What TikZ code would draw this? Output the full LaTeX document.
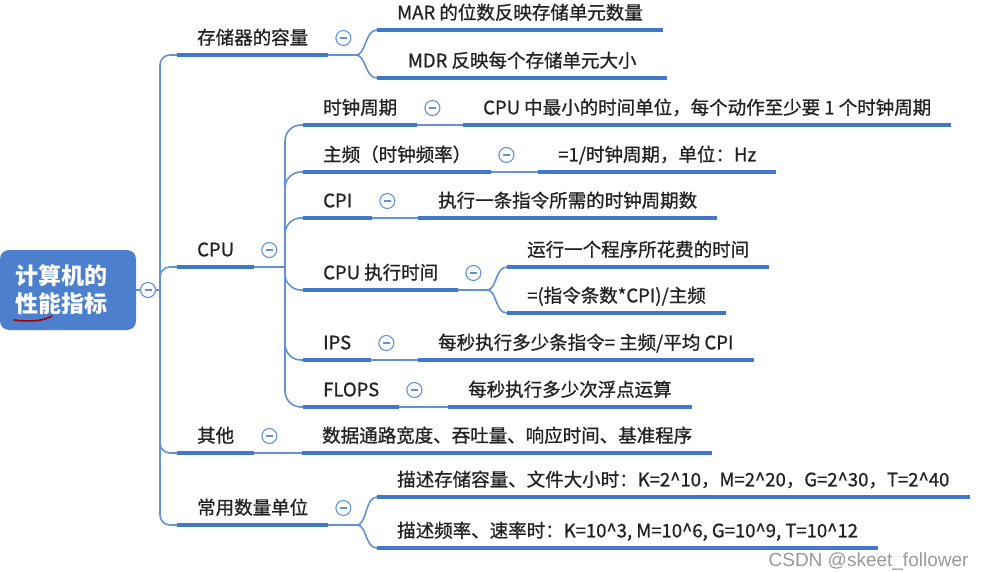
\documentclass[tikz,border=0pt]{standalone}
\usepackage{fontspec}
\setmainfont{Noto Sans CJK SC}
\newfontfamily\topicfont{Noto Sans CJK SC}[FakeBold=0.9]
\newfontfamily\markfont{Liberation Sans}
\usetikzlibrary{positioning}
\definecolor{mapblue}{RGB}{66,120,204}
\definecolor{linkblue}{RGB}{98,146,214}
\definecolor{rootblue}{RGB}{76,128,206}
\definecolor{ink}{RGB}{34,34,34}

\begin{document}
\begin{tikzpicture}[x=1pt, y=-1pt,
  root/.style={fill=rootblue, rounded corners=9pt, minimum width=136pt, minimum height=80pt, text width=106pt, inner xsep=15pt, inner ysep=0pt, align=left, text=white, font=\fontsize{23}{28}\selectfont\bfseries},
  topic/.style={anchor=south west, inner xsep=20pt, inner ysep=8.5pt, text height=15pt, text depth=2pt, text=ink, font=\topicfont\fontsize{18.5}{20}\selectfont},
  fold/.style={circle, draw=linkblue, fill=white, line width=1.1pt, minimum size=15pt, inner sep=0pt,
    path picture={\draw[linkblue, line width=1.1pt] ([xshift=-3.5pt]path picture bounding box.center) -- ([xshift=3.5pt]path picture bounding box.center);}},
  uline/.style={mapblue, line width=4.5pt},
  link/.style={linkblue, line width=1.6pt}]
  \useasboundingbox (0,0) rectangle (987,572);
  % root
  \node[root] (root) at (68,290) {计算机的\\性能指标};
  \draw[red!65!black, line width=1.6pt, line cap=round] (14,320) .. controls (30,322) and (44,321) .. (52,316);
  \node[fold] (f0) at (148,290) {};
  \coordinate (t0) at (160,290);
  % first level
  \node[topic] (mem)  at (177,55)  {存储器的容量};
  \node[topic] (cpu)  at (177,267) {CPU};
  \node[topic] (misc) at (177,453) {其他};
  \node[topic] (unit) at (177,525) {常用数量单位};
  % memory
  \node[topic] (mar) at (377,30) {MAR 的位数反映存储单元数量};
  \node[topic, minimum width=290pt] (mdr) at (377,78) {MDR 反映每个存储单元大小};
  % cpu
  \node[topic] (clk)   at (303,125) {时钟周期};
  \node[topic] (freq)  at (303,172) {主频（时钟频率）};
  \node[topic] (cpi)   at (303,218) {CPI};
  \node[topic] (exe)   at (303,290) {CPU 执行时间};
  \node[topic] (ips)   at (303,360) {IPS};
  \node[topic] (flops) at (303,407) {FLOPS};
  \node[topic] (clk1)   at (463,125) {CPU 中最小的时间单位，每个动作至少要 1 个时钟周期};
  \node[topic] (freq1)  at (538,172) {=1/时钟周期，单位：Hz};
  \node[topic] (cpi1)   at (418,218) {执行一条指令所需的时钟周期数};
  \node[topic] (exe1)   at (507,267) {运行一个程序所花费的时间};
  \node[topic] (exe2)   at (507,313) {=(指令条数*CPI)/主频};
  \node[topic] (ips1)   at (418,360) {每秒执行多少条指令= 主频/平均 CPI};
  \node[topic] (flops1) at (448,407) {每秒执行多少次浮点运算};
  % others and units
  \node[topic] (misc1) at (302,453) {数据通路宽度、吞吐量、响应时间、基准程序};
  \node[topic] (unit1) at (377,497) {描述存储容量、文件大小时：K=2\textasciicircum 10，M=2\textasciicircum 20，G=2\textasciicircum 30，T=2\textasciicircum 40};
  \node[topic] (unit2) at (377,548) {描述频率、速率时：K=10\textasciicircum 3, M=10\textasciicircum 6, G=10\textasciicircum 9, T=10\textasciicircum 12};
  % fork points
  \coordinate (kmem)  at (356,55);
  \coordinate (kcpu)  at (285,267);
  \coordinate (kexe)  at (487,290);
  \coordinate (kunit) at (357,525);
  % underlines
  \foreach \n in {mem, cpu, misc, unit, mar, mdr, clk, freq, cpi, exe, ips, flops,
                  clk1, freq1, cpi1, exe1, exe2, ips1, flops1, misc1, unit1, unit2}
    \draw[uline] (\n.south west) -- (\n.south east);
  % trunk
  \draw[link] (root.east) -- (f0.west);
  \draw[link] (f0.east) -- (t0);
  \foreach \n in {mem, cpu, misc, unit}
    \draw[link, rounded corners=10pt] (t0) |- (\n.south west);
  % cpu branch
  \draw[link] (cpu.south east) -- (kcpu);
  \foreach \n in {clk, freq, cpi, exe, ips, flops}
    \draw[link, rounded corners=16pt] (kcpu) |- (\n.south west);
  % forks
  \foreach \a/\b in {mem/kmem, exe/kexe, unit/kunit}
    \draw[link] (\a.south east) -- (\b);
  \foreach \k/\n in {kmem/mar, kmem/mdr, kexe/exe1, kexe/exe2, kunit/unit1, kunit/unit2}
    \draw[link] (\k) .. controls +(10,0) and +(-12,0) .. (\n.south west);
  % single leaves
  \foreach \a/\b in {clk/clk1, freq/freq1, cpi/cpi1, ips/ips1, flops/flops1, misc/misc1}
    \draw[link] (\a.south east) -- (\b.south west);
  % fold buttons
  \node[fold] (fmem)   at ([shift={(15,-17)}]mem.south east) {};
  \node[fold] (fcpu)   at ([shift={(15,-17)}]cpu.south east) {};
  \node[fold] (fmisc)  at ([shift={(15,-17)}]misc.south east) {};
  \node[fold] (funit)  at ([shift={(15,-17)}]unit.south east) {};
  \node[fold] (fclk)   at ([shift={(15,-17)}]clk.south east) {};
  \node[fold] (ffreq)  at ([shift={(15,-17)}]freq.south east) {};
  \node[fold] (fcpi)   at ([shift={(15,-17)}]cpi.south east) {};
  \node[fold] (fexe)   at ([shift={(15,-17)}]exe.south east) {};
  \node[fold] (fips)   at ([shift={(15,-17)}]ips.south east) {};
  \node[fold] (fflops) at ([shift={(15,-17)}]flops.south east) {};
  % watermark
  \node[anchor=east, text=black!40, font=\markfont\fontsize{19}{20}\selectfont] (wm) at (972,561) {CSDN @skeet\_follower};
\end{tikzpicture}
\end{document}
